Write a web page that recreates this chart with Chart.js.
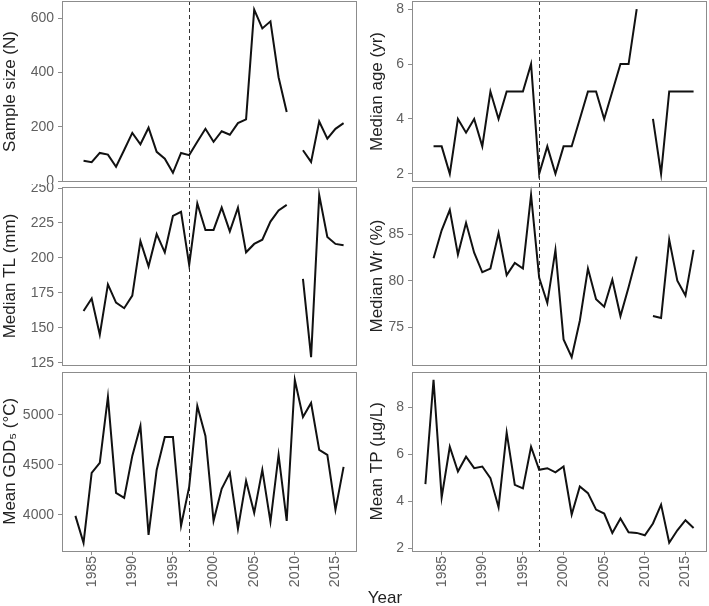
<!DOCTYPE html>
<html>
<head>
<meta charset="utf-8">
<script src="https://cdn.jsdelivr.net/npm/chart.js@4.4.1/dist/chart.umd.min.js"></script>
<style>
  body { margin: 0; background: #fff; }
  #wrap { position: relative; width: 709px; height: 606px; overflow: hidden; background: #fff; }
  #wrap canvas { position: absolute; }
  #xtitle {
    position: absolute; left: 335px; width: 100px; top: 588px;
    text-align: center; font: 17px "Liberation Sans", Arial, sans-serif; color: #222;
  }
</style>
</head>
<body>
<div id="wrap">
  <canvas id="c-size" width="360" height="184"></canvas>
  <canvas id="c-age" width="352" height="184"></canvas>
  <canvas id="c-tl" width="360" height="184"></canvas>
  <canvas id="c-wr" width="352" height="184"></canvas>
  <canvas id="c-gdd" width="360" height="238"></canvas>
  <canvas id="c-tp" width="352" height="238"></canvas>
  <div id="xtitle">Year</div>
</div>
<script>
// Datos (null = sin muestreo)
const years = [1983, 1984, 1985, 1986, 1987, 1988, 1989, 1990, 1991, 1992, 1993, 1994,
  1995, 1996, 1997, 1998, 1999, 2000, 2001, 2002, 2003, 2004, 2005, 2006, 2007, 2008,
  2009, 2010, 2011, 2012, 2013, 2014, 2015, 2016];

const sampleSize = [null, 75, 70, 104, 98, 53, 115, 178, 136, 197, 108, 83, 31, 104, 96,
  145, 193, 145, 184, 171, 214, 228, 632, 563, 589, 383, 255, null, 114, 71, 220, 157, 193, 214];

const medianAge = [null, 3, 3, 2, 4, 3.5, 4, 3, 5, 4, 5, 5, 5, 6, 2, 3, 2, 3, 3, 4, 5, 5,
  4, 5, 6, 6, 8, null, 4, 2, 5, 5, 5, 5];

const medianTL = [null, 162, 171, 145, 181, 168, 164, 173, 212, 194, 217, 204, 230, 233,
  195, 239, 220, 220, 236, 219, 236, 204, 210, 213, 226, 234, 238, null, 185, 129, 245,
  215, 210, 209];

const medianWr = [null, 82.4, 85.4, 87.6, 82.8, 86.2, 83.0, 80.9, 81.3, 85.1, 80.6, 81.9,
  81.3, 89.2, 80.3, 77.6, 83.3, 73.7, 71.8, 75.7, 81.3, 78.0, 77.2, 80.1, 76.2, 79.3, 82.6,
  null, 76.2, 76.0, 84.4, 80.0, 78.4, 83.3];

const meanGDD = [3990, 3720, 4420, 4520, 5180, 4220, 4170, 4590, 4890, 3800, 4450, 4780,
  4780, 3890, 4280, 5090, 4790, 3940, 4260, 4420, 3860, 4340, 4020, 4450, 3930, 4600, 3940,
  5350, 4980, 5120, 4650, 4600, 4050, 4480];

const meanTP = [4.73, 9.17, 4.17, 6.32, 5.27, 5.90, 5.41, 5.48, 4.99, 3.75, 6.92, 4.70,
  4.55, 6.32, 5.34, 5.41, 5.23, 5.48, 3.44, 4.63, 4.35, 3.65, 3.48, 2.66, 3.27, 2.69, 2.66,
  2.56, 3.06, 3.86, 2.24, 2.77, 3.20, 2.87];

const yearTicks = [1985, 1990, 1995, 2000, 2005, 2010, 2015];
const sizeTicks = [0, 200, 400, 600];
const ageTicks = [2, 4, 6, 8];
const tlTicks = [125, 150, 175, 200, 225, 250];
const wrTicks = [75, 80, 85];
const gddTicks = [4000, 4500, 5000];
const tpTicks = [2, 4, 6, 8];

const changeYear = 1997; // linea discontinua

const FONT = '"Liberation Sans", Arial, sans-serif';
const AXIS_GREY = '#8c8c8c';
Chart.defaults.font.family = FONT;

// posicion de cada lienzo
const layout = {
  'c-size': { left: 0, top: 0, row: 0, col: 0 },
  'c-age': { left: 357, top: 0, row: 0, col: 1 },
  'c-tl': { left: 0, top: 184, row: 1, col: 0 },
  'c-wr': { left: 357, top: 184, row: 1, col: 1 },
  'c-gdd': { left: 0, top: 368, row: 2, col: 0 },
  'c-tp': { left: 357, top: 368, row: 2, col: 1 }
};

const panels = [
  { id: 'c-size', title: 'Sample size (N)', data: sampleSize, ticks: sizeTicks, min: -3, max: 664 },
  { id: 'c-age', title: 'Median age (yr)', data: medianAge, ticks: ageTicks, min: 1.7, max: 8.3 },
  { id: 'c-tl', title: 'Median TL (mm)', data: medianTL, ticks: tlTicks, min: 123, max: 251.1 },
  { id: 'c-wr', title: 'Median Wr (%)', data: medianWr, ticks: wrTicks, min: 70.9, max: 90.1 },
  { id: 'c-gdd', title: 'Mean GDD\u2085 (\u00B0C)', data: meanGDD, ticks: gddTicks, min: 3638, max: 5435 },
  { id: 'c-tp', title: 'Mean TP (\u00B5g/L)', data: meanTP, ticks: tpTicks, min: 1.89, max: 9.52 }
];

// marco del panel + linea vertical discontinua
const framePlugin = {
  id: 'frame',
  beforeDatasetsDraw(chart, args, opts) {
    const area = chart.chartArea;
    const ctx = chart.ctx;
    const x = Math.round(chart.scales.x.getPixelForValue(changeYear)) + 0.5;
    const y0 = opts.row === 0 ? area.top : 0;
    const y1 = opts.row === 2 ? area.bottom : chart.height;
    ctx.save();
    ctx.strokeStyle = '#333';
    ctx.lineWidth = 1;
    ctx.setLineDash([4, 3]);
    ctx.beginPath();
    ctx.moveTo(x, y0);
    ctx.lineTo(x, y1);
    ctx.stroke();
    ctx.restore();
  },
  afterDraw(chart) {
    const a = chart.chartArea;
    const ctx = chart.ctx;
    ctx.save();
    ctx.strokeStyle = AXIS_GREY;
    ctx.lineWidth = 1;
    ctx.strokeRect(Math.round(a.left) + 0.5, Math.round(a.top) + 0.5,
      Math.round(a.right - a.left) - 1, Math.round(a.bottom - a.top) - 1);
    ctx.restore();
  }
};

// sin margen extra por etiquetas en los bordes
function noPadding(s) {
  s.paddingTop = 0;
  s.paddingBottom = 0;
  s.paddingLeft = 0;
  s.paddingRight = 0;
}

panels.forEach(p => {
  const pos = layout[p.id];
  const canvas = document.getElementById(p.id);
  canvas.style.left = pos.left + 'px';
  canvas.style.top = pos.top + 'px';
  const bottomRow = pos.row === 2;
  const padTop = [1, 2.5, 3.5][pos.row];
  const padBottom = bottomRow ? 0 : [2, 2.5][pos.row];

  new Chart(canvas.getContext('2d'), {
    type: 'line',
    data: {
      datasets: [{
        data: years.map((yr, i) => ({ x: yr, y: p.data[i] })),
        borderColor: '#111',
        borderWidth: 2,
        pointRadius: 0,
        tension: 0,
        spanGaps: false,
        fill: false
      }]
    },
    options: {
      responsive: false,
      animation: false,
      devicePixelRatio: 1,
      layout: { padding: { top: padTop, bottom: padBottom, left: 0, right: pos.col === 0 ? 3 : 2 } },
      plugins: {
        legend: { display: false },
        tooltip: { enabled: false },
        frame: { row: pos.row }
      },
      scales: {
        x: {
          type: 'linear',
          min: 1981.35,
          max: 2017.65,
          display: bottomRow,
          afterBuildTicks: s => { s.ticks = yearTicks.map(v => ({ value: v })); },
          afterFit: s => {
            s.height = bottomRow ? 55 : 0;
            noPadding(s);
          },
          grid: { drawOnChartArea: false, drawTicks: true, tickLength: 4, color: AXIS_GREY },
          border: { display: false },
          ticks: {
            autoSkip: false,
            minRotation: 90,
            maxRotation: 90,
            padding: 1,
            color: '#5f5f5f',
            font: { size: 14 },
            callback: v => String(v)
          }
        },
        y: {
          min: p.min,
          max: p.max,
          afterBuildTicks: s => { s.ticks = p.ticks.map(v => ({ value: v })); },
          afterFit: s => {
            s.width = pos.col === 0 ? 62 : 55;
            noPadding(s);
          },
          grid: { drawOnChartArea: false, drawTicks: true, tickLength: 4, color: AXIS_GREY },
          border: { display: false },
          ticks: {
            padding: 4,
            color: '#5f5f5f',
            font: { size: 14 },
            callback: v => String(v)
          },
          title: {
            display: true,
            text: p.title,
            color: '#222',
            font: { size: 17 },
            padding: { top: pos.col === 0 ? 0 : 10, bottom: 0 }
          }
        }
      }
    },
    plugins: [framePlugin]
  });
});
</script>
</body>
</html>
